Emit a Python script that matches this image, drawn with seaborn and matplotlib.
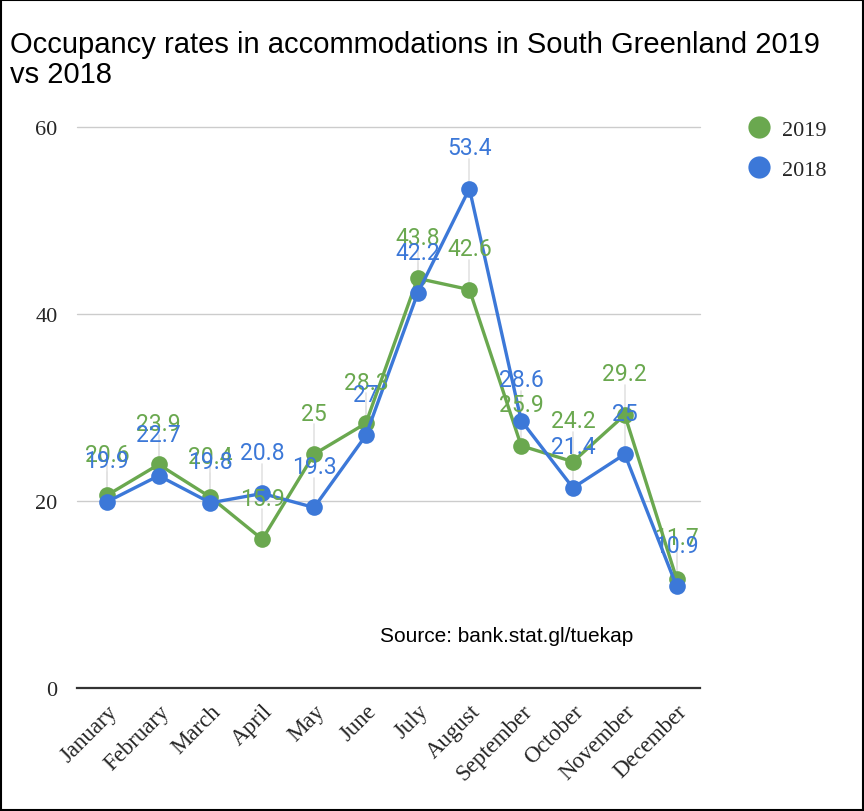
import matplotlib
matplotlib.use("Agg")
import matplotlib.pyplot as plt
import matplotlib.transforms as mtransforms
import seaborn as sns
import pandas as pd
from matplotlib.lines import Line2D
from matplotlib.patches import Rectangle

months = ["January", "February", "March", "April", "May", "June",
          "July", "August", "September", "October", "November", "December"]
occ_2019 = [20.6, 23.9, 20.4, 15.9, 25, 28.3, 43.8, 42.6, 25.9, 24.2, 29.2, 11.7]
occ_2018 = [19.9, 22.7, 19.8, 20.8, 19.3, 27, 42.2, 53.4, 28.6, 21.4, 25, 10.9]
series_names = ["2019", "2018"]
y_ticks = [0, 20, 40, 60]

green = "#6aa84f"
blue = "#3c78d8"
palette = {"2019": green, "2018": blue}

df = pd.DataFrame({
    "month_idx": list(range(12)) * 2,
    "value": occ_2019 + occ_2018,
    "year": ["2019"] * 12 + ["2018"] * 12,
})

sns.set_theme(style="white")
fig = plt.figure(figsize=(8.64, 8.12), dpi=100)
ax = fig.add_axes([0.089, 0.1515, 0.721, 0.691])

sns.lineplot(data=df, x="month_idx", y="value", hue="year", palette=palette,
             hue_order=series_names, marker="o", markersize=12, markeredgewidth=0,
             linewidth=2.4, ax=ax, legend=False, zorder=3)

# data labels with faint leader lines; 2018 labels sit on top
for vals, color, z in ((occ_2019, green, 5), (occ_2018, blue, 6)):
    for i, v in enumerate(vals):
        ax.plot([i, i], [v, v + 3.2], color="#e3e3e3", lw=1.2, zorder=1)
        ax.annotate(f"{v:g}", (i, v), xytext=(0, 29.5), textcoords="offset points",
                    ha="center", va="center", color=color, fontsize=16.5,
                    family="Roboto", zorder=z)

ax.set_xlim(-0.58, 11.45)
ax.set_ylim(0, 60)
ax.set_yticks(y_ticks)
ax.set_yticklabels([str(t) for t in y_ticks], family="Liberation Serif", fontsize=16)
ax.set_xticks(range(12))
ax.set_xticklabels(months, rotation=45, ha="right", va="top", rotation_mode="anchor",
                   family="Liberation Serif", fontsize=16.5)
shift = mtransforms.ScaledTranslation(12 / 100, 0, fig.dpi_scale_trans)
for lbl in ax.get_xticklabels():
    lbl.set_transform(lbl.get_transform() + shift)
ax.tick_params(axis="y", length=0, pad=14)
ax.tick_params(axis="x", length=0, pad=9)
ax.set_xlabel("")
ax.set_ylabel("")
for t in y_ticks[1:]:
    ax.axhline(t, color="#cccccc", lw=1, zorder=0, clip_on=False)
for s in ("top", "right", "left"):
    ax.spines[s].set_visible(False)
ax.spines["bottom"].set_color("#333333")
ax.spines["bottom"].set_linewidth(1.6)

ax.text(0.486, 0.093, "Source: bank.stat.gl/tuekap", transform=ax.transAxes,
        family="Liberation Sans", fontsize=15, color="black", va="center")

fig.text(0.012, 0.926, "Occupancy rates in accommodations in South Greenland 2019\nvs 2018",
         family="Liberation Sans", fontsize=21, color="black", va="center",
         linespacing=1.1)

handles = [Line2D([0], [0], marker="o", color="none", markerfacecolor=palette[n],
                  markeredgewidth=0, markersize=16, label=n) for n in series_names]
fig.legend(handles=handles, loc="upper left", bbox_to_anchor=(0.84, 0.876),
           frameon=False, prop={"family": "Liberation Serif", "size": 16},
           handletextpad=0.45, labelspacing=0.85, handlelength=1.2)

fig.patches.append(Rectangle((0.001, 0.001), 0.998, 0.998, transform=fig.transFigure,
                             fill=False, edgecolor="black", lw=1.5))

fig.savefig("out.png", dpi=100)
